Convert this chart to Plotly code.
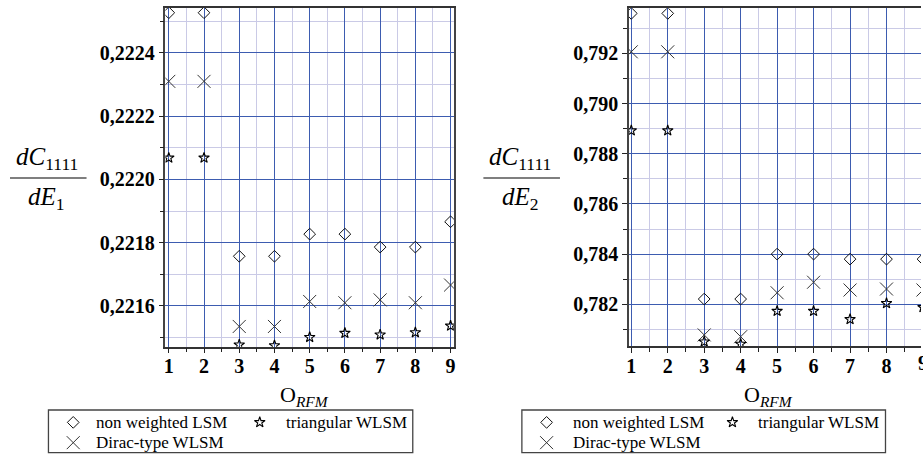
import plotly.graph_objects as go

# Order of the RFM approximation
orders = [1, 2, 3, 4, 5, 6, 7, 8, 9]

# dC1111/dE1
lsm_e1 = [0.222527, 0.222527, 0.221757, 0.221757, 0.221827, 0.221827, 0.221786, 0.221786, 0.221866]
dirac_e1 = [0.222310, 0.222310, 0.221535, 0.221535, 0.221614, 0.221610, 0.221619, 0.221610, 0.221666]
tri_e1 = [0.222068, 0.222068, 0.221477, 0.221475, 0.221501, 0.221514, 0.221509, 0.221516, 0.221537]

# dC1111/dE2
lsm_e2 = [0.79359, 0.79359, 0.78221, 0.78221, 0.78400, 0.78400, 0.78380, 0.78380, 0.78380]
dirac_e2 = [0.79206, 0.79206, 0.78078, 0.78071, 0.78246, 0.78288, 0.78257, 0.78261, 0.78257]
tri_e2 = [0.78892, 0.78892, 0.78051, 0.78042, 0.78173, 0.78173, 0.78140, 0.78204, 0.78188]

series_names = ["non weighted LSM", "Dirac-type WLSM", "triangular WLSM"]

W, H = 923, 454
SERIF = "Times New Roman, Liberation Serif, serif"
MAJOR = "#3d5cb0"
MINOR = "#cacae6"

MARKERS = {
    "non weighted LSM": dict(symbol="diamond-open", size=9, color="#111", line=dict(width=1, color="#111")),
    "Dirac-type WLSM": dict(symbol="x-thin-open", size=13, color="#333", line=dict(width=1, color="#333")),
    "triangular WLSM": dict(symbol="star-open", size=8, color="#000", line=dict(width=1.1, color="#000")),
}


def px_x(p):
    return p / W


def px_y(p):
    return 1 - p / H


fig = go.Figure()

panels = [
    dict(xa="x", ya="y", data=[lsm_e1, dirac_e1, tri_e1]),
    dict(xa="x2", ya="y2", data=[lsm_e2, dirac_e2, tri_e2]),
]
for pan in panels:
    for name, ys in zip(series_names, pan["data"]):
        fig.add_trace(go.Scatter(
            x=orders, y=ys, mode="markers", name=name,
            marker=MARKERS[name], xaxis=pan["xa"], yaxis=pan["ya"],
            showlegend=False, cliponaxis=True, hoverinfo="x+y",
        ))

x_ranges = [[0.904, 9.093], [0.9345, 8.946]]
x_domains = [[px_x(163.3), px_x(453.3)], [px_x(629.3), 1.0]]
y_ranges = [[0.221471, 0.222542], [0.780339, 0.793793]]
y_domains = [[px_y(346.7), px_y(8.0)], [px_y(346.0), px_y(8.3)]]
y_dticks = [0.0002, 0.002]
y_formats = [".4f", ".3f"]

tick_font = dict(family=SERIF, size=20, color="#000", weight="bold")

for i in range(2):
    sfx = "" if i == 0 else "2"
    fig.update_layout(**{
        "xaxis" + sfx: dict(
            domain=x_domains[i], range=x_ranges[i], anchor="y" + sfx,
            tickvals=orders, ticktext=[str(o) for o in orders],
            ticks="outside", ticklen=5, tickcolor="#222", tickwidth=1,
            tickfont=tick_font, ticklabelstandoff=-4,
            showgrid=True, gridcolor=MAJOR, gridwidth=1,
            minor=dict(dtick=0.5, tick0=0.5, ticks="outside", ticklen=4, tickcolor="#222",
                       showgrid=True, gridcolor=MINOR, gridwidth=1),
            showline=True, linecolor="#333", linewidth=1.5, mirror=True,
            zeroline=False, fixedrange=True,
        ),
        "yaxis" + sfx: dict(
            domain=y_domains[i], range=y_ranges[i], anchor="x" + sfx,
            dtick=y_dticks[i], tick0=0, tickformat=y_formats[i],
            ticks="outside", ticklen=5, tickcolor="#222", tickwidth=1,
            tickfont=tick_font,
            showgrid=True, gridcolor=MAJOR, gridwidth=1,
            minor=dict(dtick=y_dticks[i] / 2, ticks="outside", ticklen=4, tickcolor="#222",
                       showgrid=True, gridcolor=MINOR, gridwidth=1),
            showline=True, linecolor="#444", linewidth=1.5, mirror=(i == 0),
            zeroline=False, fixedrange=True,
        ),
    })

annotations = []
shapes = []

# The last order tick of the right panel sits on the page edge
r0, r1 = x_ranges[1]
d0, d1 = x_domains[1]
x9 = d0 + (orders[-1] - r0) / (r1 - r0) * (d1 - d0)
annotations.append(dict(
    x=x9, y=px_y(346.0) - 4 / H, xref="paper", yref="paper",
    text="9", showarrow=False, xanchor="center", yanchor="top",
    font=tick_font,
))

# Axis titles: O_RFM and the derivative fractions
for cx in (303, 770):
    annotations.append(dict(
        x=px_x(cx), y=px_y(396), xref="paper", yref="paper",
        text="O<sub><i>RFM</i></sub>", showarrow=False,
        xanchor="center", yanchor="middle",
        font=dict(family=SERIF, size=22, color="#000"),
    ))

for cx, x_a, x_b, sub in ((44, 7, 84, "1"), (520, 483, 560, "2")):
    annotations.append(dict(
        x=px_x(cx), y=px_y(176), xref="paper", yref="paper",
        text="<i>dC</i><sub>1111</sub>", showarrow=False,
        xanchor="center", yanchor="bottom",
        font=dict(family=SERIF, size=25, color="#000"),
    ))
    annotations.append(dict(
        x=px_x(cx), y=px_y(181), xref="paper", yref="paper",
        text="<i>dE</i><sub>%s</sub>" % sub, showarrow=False,
        xanchor="center", yanchor="top",
        font=dict(family=SERIF, size=25, color="#000"),
    ))
    shapes.append(dict(
        type="line", xref="paper", yref="paper",
        x0=px_x(x_a), x1=px_x(x_b), y0=px_y(178), y1=px_y(178),
        line=dict(color="#000", width=1.2),
    ))

# Legend boxes below each panel
legend_boxes = [
    dict(x0=45.7, x1=412.0, sym=[0.068, 0.580], txt=[0.124, 0.647]),
    dict(x0=521.7, x1=887.3, sym=[0.068, 0.579], txt=[0.135, 0.645]),
]
legend_rows = {
    "non weighted LSM": (0, 0.71),
    "triangular WLSM": (1, 0.71),
    "Dirac-type WLSM": (0, 0.235),
}
for k, box in enumerate(legend_boxes):
    sfx = str(3 + k)
    fig.update_layout(**{
        "xaxis" + sfx: dict(domain=[px_x(box["x0"]), px_x(box["x1"])], range=[0, 1],
                            visible=False, fixedrange=True, anchor="y" + sfx),
        "yaxis" + sfx: dict(domain=[px_y(452.7), px_y(410.0)], range=[0, 1],
                            visible=False, fixedrange=True, anchor="x" + sfx),
    })
    shapes.append(dict(
        type="rect", xref="x%s domain" % sfx, yref="y%s domain" % sfx,
        x0=0, x1=1, y0=0, y1=1, line=dict(color="#444", width=1.3),
        fillcolor="rgba(0,0,0,0)",
    ))
    for name in series_names:
        col, ry = legend_rows[name]
        fig.add_trace(go.Scatter(
            x=[box["sym"][col]], y=[ry], mode="markers", marker=MARKERS[name],
            xaxis="x" + sfx, yaxis="y" + sfx, showlegend=False, hoverinfo="skip",
        ))
        annotations.append(dict(
            x=box["txt"][col], y=ry, xref="x" + sfx, yref="y" + sfx,
            text=name, showarrow=False, xanchor="left", yanchor="middle",
            font=dict(family=SERIF, size=17, color="#000"),
        ))

fig.update_layout(
    width=W, height=H,
    margin=dict(l=0, r=0, t=0, b=0),
    paper_bgcolor="#fff", plot_bgcolor="#fff",
    font=dict(family=SERIF),
    separators=",.",
    showlegend=False,
    annotations=annotations,
    shapes=shapes,
)

fig.write_html("out.html", config={"displayModeBar": False})
